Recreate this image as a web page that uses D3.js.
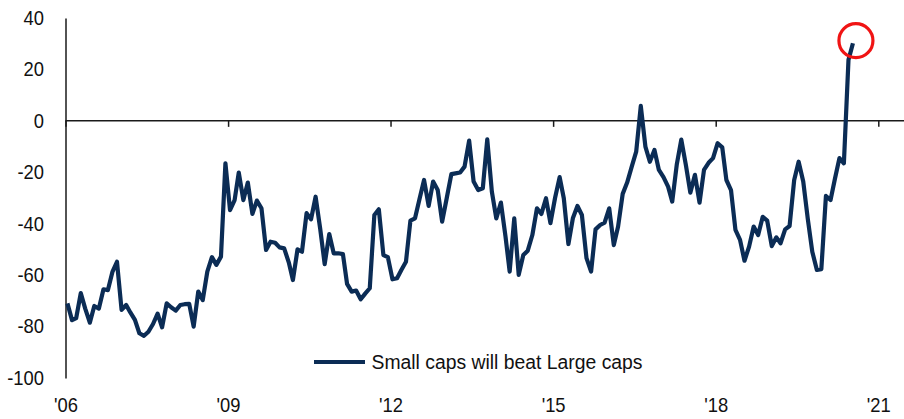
<!DOCTYPE html>
<html>
<head>
<meta charset="utf-8">
<script src="https://cdn.jsdelivr.net/npm/d3@7/dist/d3.min.js"></script>
<style>
  html, body { margin: 0; padding: 0; background: #fff; }
  svg { display: block; font-family: "Liberation Sans", Arial, sans-serif; }
</style>
</head>
<body>
<svg id="chart" width="904" height="419"></svg>
<script>
// Monthly readings starting January 2006
const startYear = 2006;
const startMonth = 0;
const seriesName = "Small caps will beat Large caps";
const values = [
  -71, -77.5, -76.7, -67, -73, -78.5, -72, -73, -65.5, -65.8,
  -58.6, -54.8, -73.5, -71.6, -74.5, -77.4, -82.6, -83.6, -82, -79,
  -75, -80.3, -71, -72.5, -73.8, -71.6, -71.3, -71.2, -80, -66.4,
  -69.7, -58.6, -53, -56, -52.8, -16.5, -34.7, -30.8, -20.1, -30.8,
  -24, -36.2, -31, -34, -50.2, -47, -47.4, -49.2, -49.6, -55,
  -61.9, -50, -50.9, -35.9, -38.3, -29.5, -42, -55.7, -44, -51.5,
  -51.5, -51.8, -63.4, -66.4, -66, -69.4, -67.2, -65.1, -36.6, -34.4,
  -52.2, -53, -61.6, -61.2, -58, -54.8, -38.8, -37.9, -30.5, -23,
  -33.1, -23.6, -26.9, -39.2, -30, -20.7, -20.4, -20.1, -17.8, -7.7,
  -23.6, -26.9, -26.2, -7.2, -27.5, -37.9, -31.8, -45, -58.6, -37.9,
  -59.9, -52.2, -50.5, -44.4, -34, -36.2, -30.1, -39.8, -30, -21.9,
  -30.1, -47.9, -37.9, -33.1, -36.6, -53.4, -58.6, -42.2, -40.5, -39.6,
  -34, -48.3, -41.1, -28.4, -24, -17.8, -12, 5.8, -10, -15.9,
  -11.3, -19.1, -21.9, -25.6, -31.4, -16.8, -7.3, -17.2, -27.9, -21,
  -31.8, -19.1, -16.3, -14.5, -8.7, -10.3, -23, -26.9, -42.4, -46.3,
  -54.4, -48.9, -41.1, -44.4, -37.3, -38.8, -48.7, -45.3, -47.6, -42.2,
  -40.9, -23, -15.9, -23.6, -38.3, -50.9, -58, -57.7, -29.2, -30.8,
  -22.7, -14.5, -16.5, 23.7, 30.2
];
const tickYears = [2006, 2009, 2012, 2015, 2018, 2021];
const tickLabels = ["'06", "'09", "'12", "'15", "'18", "'21"];
const yTicks = [40, 20, 0, -20, -40, -60, -80, -100];

const data = values.map((v, i) => ({ date: new Date(startYear, startMonth + i, 14), value: v }));

const svg = d3.select("#chart");
const margin = { left: 65.5, right: 25.7, top: 18, bottom: 41 };
const W = 904, H = 419;

const x = d3.scaleTime()
  .domain([new Date(2006, 0, 1), new Date(2021, 0, 1)])
  .range([margin.left, W - margin.right]);
const y = d3.scaleLinear()
  .domain([-100, 40])
  .range([H - margin.bottom, margin.top]);

const ink = "#111";
const fontSize = 20;
const squeeze = 0.92; // slightly condensed lettering

// y axis: line only, labels to the left (plain hyphen for negatives)
const yAxis = d3.axisLeft(y).tickValues(yTicks).tickSize(0).tickPadding(23.4)
  .tickFormat(d => String(d));
const gy = svg.append("g").attr("transform", `translate(${margin.left},0)`).call(yAxis);
gy.select(".domain").attr("stroke", "#1a1a1a").attr("stroke-width", 1.5);
gy.selectAll("text").attr("font-size", fontSize).attr("fill", ink)
  .attr("font-family", "'Liberation Sans', Arial, sans-serif")
  .attr("transform", `scale(${squeeze},1)`);

// zero line with small downward year ticks
const zeroAxis = d3.axisBottom(x)
  .tickValues(tickYears.map(yr => new Date(yr, 0, 1)))
  .tickSize(6).tickSizeOuter(0).tickFormat("");
const gz = svg.append("g").attr("transform", `translate(0,${y(0)})`).call(zeroAxis);
gz.select(".domain").attr("d", `M${margin.left},0H${W}`).attr("stroke", "#1a1a1a").attr("stroke-width", 1.5);
gz.selectAll(".tick line").attr("stroke", "#1a1a1a").attr("stroke-width", 1.5);

// year labels along the bottom
const xLabels = d3.axisBottom(x)
  .tickValues(tickYears.map(yr => new Date(yr, 0, 1)))
  .tickSize(0).tickPadding(0)
  .tickFormat((d, i) => tickLabels[i]);
const gx = svg.append("g").attr("transform", `translate(0,${H - 21})`).call(xLabels);
gx.select(".domain").remove();
gx.selectAll("text").attr("font-size", fontSize).attr("fill", ink)
  .attr("font-family", "'Liberation Sans', Arial, sans-serif")
  .attr("transform", `scale(${squeeze},1)`);

// series line
const navy = "#0b2c55";
const line = d3.line().x(d => x(d.date)).y(d => y(d.value));
svg.append("path").datum(data)
  .attr("fill", "none").attr("stroke", navy).attr("stroke-width", 4.2)
  .attr("stroke-linejoin", "round").attr("stroke-linecap", "butt")
  .attr("d", line);

// highlight the latest reading
const last = data[data.length - 1];
svg.append("circle")
  .attr("cx", x(last.date) + 3).attr("cy", y(last.value) - 2.5)
  .attr("r", 17)
  .attr("fill", "none").attr("stroke", "#f01414").attr("stroke-width", 3.2);

// legend
const legend = svg.append("g").attr("transform", `translate(314,362)`);
legend.append("line").attr("x1", 0).attr("x2", 51).attr("y1", 0).attr("y2", 0)
  .attr("stroke", navy).attr("stroke-width", 4.2);
legend.append("text").attr("x", 57.5).attr("y", 0).attr("dy", "0.35em")
  .attr("font-size", fontSize).attr("fill", ink)
  .attr("textLength", 271).attr("lengthAdjust", "spacingAndGlyphs")
  .text(seriesName);
</script>
</body>
</html>
